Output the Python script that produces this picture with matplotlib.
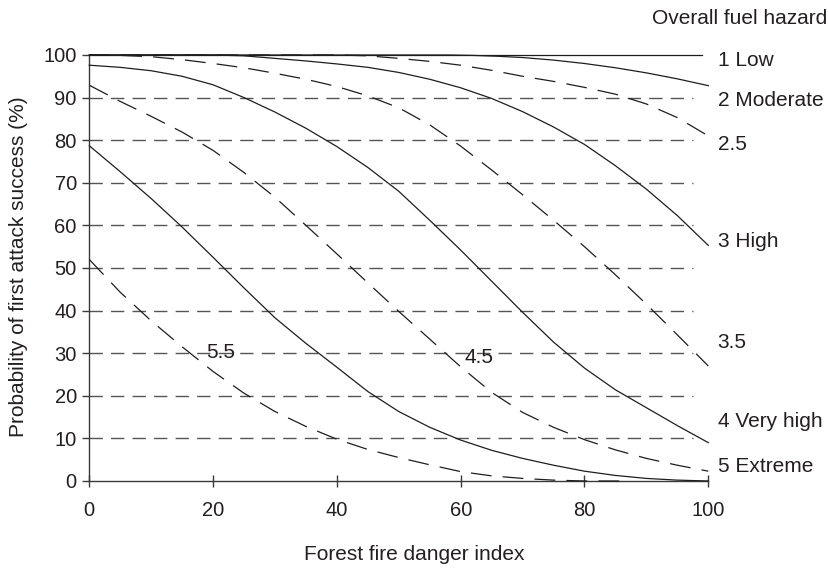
import matplotlib
matplotlib.use("Agg")
import matplotlib.pyplot as plt

plt.rcParams['font.family'] = ['Liberation Sans', 'DejaVu Sans']
plt.rcParams['lines.scale_dashes'] = False

# ---- data ----
x_std = [0, 5, 10, 15, 20, 25, 30, 35, 40, 45, 50, 55, 60, 65, 70, 75, 80, 85, 90, 95, 100]

low_x = [0, 99]
low_y = [100, 100]

moderate_x = [0, 58, 62, 66, 70, 75, 80, 85, 90, 95, 100]
moderate_y = [100, 100, 99.9, 99.7, 99.4, 98.8, 98.0, 97.0, 95.8, 94.4, 92.8]

h25_x = [0, 40, 45, 50, 55, 60, 65, 70, 75, 80, 85, 90, 95, 100]
h25_y = [100, 100, 99.8, 99.2, 98.5, 97.6, 96.4, 95.0, 93.8, 92.4, 90.8, 88.5, 85.3, 81.0]

high_x = [0, 20, 25, 30, 35, 40, 45, 50, 55, 60, 65, 70, 75, 80, 85, 90, 95, 100]
high_y = [100, 100, 99.8, 99.2, 98.6, 97.9, 97.1, 95.9, 94.3, 92.3, 89.8, 86.7, 83.1, 79.0, 74.0, 68.5, 62.3, 55.3]

h35_x = [0, 5, 10, 15, 20, 25, 30, 35, 40, 45, 50, 55, 60, 65, 70, 75, 80, 85, 90, 95, 100]
h35_y = [100, 99.9, 99.6, 98.9, 98.0, 97.0, 95.7, 94.3, 92.6, 90.4, 87.6, 83.6, 78.6, 73.0, 67.2, 61.2, 55.0, 48.4, 41.5, 34.3, 27.0]

veryhigh_y = [97.6, 97.1, 96.3, 95.0, 93.0, 90.0, 86.6, 82.8, 78.5, 73.6, 68.0, 61.2, 54.2, 46.9, 39.6, 32.6, 26.5, 21.4, 17.2, 13.0, 9.0]

h45_y = [92.9, 89.1, 85.6, 81.9, 77.6, 72.4, 66.6, 60.0, 53.3, 46.5, 39.8, 33.3, 26.8, 20.8, 16.1, 12.6, 9.7, 7.3, 5.3, 3.7, 2.3]

extreme_y = [78.7, 72.6, 66.3, 59.6, 52.5, 45.3, 38.3, 32.3, 26.7, 21.0, 16.3, 12.6, 9.6, 7.2, 5.3, 3.7, 2.3, 1.3, 0.6, 0.2, 0.0]

h55_x = [0, 5, 10, 15, 20, 25, 30, 35, 40, 45, 50, 55, 60, 65, 70, 75, 80, 86]
h55_y = [52.0, 44.3, 37.6, 31.5, 25.7, 20.6, 16.3, 12.8, 9.8, 7.4, 5.5, 3.8, 2.2, 1.2, 0.6, 0.2, 0.0, 0.0]

right_labels = ["1 Low", "2 Moderate", "2.5", "3 High", "3.5", "4 Very high", "5 Extreme"]
right_label_y = [98.8, 89.4, 78.9, 56.2, 32.4, 13.9, 3.4]

inline_labels = ["5.5", "4.5"]
inline_label_x = [21.2, 63.0]
inline_label_y = [30.1, 29.0]

grid_levels = [10, 20, 30, 40, 50, 60, 70, 80, 90]
x_ticks = [0, 20, 40, 60, 80, 100]
y_ticks = [0, 10, 20, 30, 40, 50, 60, 70, 80, 90, 100]

# ---- figure ----
fig = plt.figure(figsize=(8.29, 5.68), dpi=100)
ax = fig.add_axes([0.1077, 0.1532, 0.7467, 0.75])

txt = '#231f20'
curve_col = '#1e1e1e'
grid_col = '#555555'

for g in grid_levels:
    ln, = ax.plot([0, 97.5], [g, g], color=grid_col, lw=1.0, zorder=1)
    ln.set_dashes([9.6, 5.9])

solid_kw = dict(color=curve_col, lw=0.9, zorder=3, clip_on=False,
                solid_joinstyle='round', dash_joinstyle='round')
dash = [15, 8]

ax.plot(low_x, low_y, **solid_kw)
ax.plot(moderate_x, moderate_y, **solid_kw)
l, = ax.plot(h25_x, h25_y, **solid_kw); l.set_dashes(dash)
ax.plot(high_x, high_y, **solid_kw)
l, = ax.plot(h35_x, h35_y, **solid_kw); l.set_dashes(dash)
ax.plot(x_std, veryhigh_y, **solid_kw)
l, = ax.plot(x_std, h45_y, **solid_kw); l.set_dashes(dash)
ax.plot(x_std, extreme_y, **solid_kw)
l, = ax.plot(h55_x, h55_y, **solid_kw); l.set_dashes(dash)

ax.set_xlim(0, 100)
ax.set_ylim(0, 100)
ax.set_xticks(x_ticks)
ax.set_yticks(y_ticks)

for s in ['top', 'right']:
    ax.spines[s].set_visible(False)
for s in ['left', 'bottom']:
    ax.spines[s].set_color('#3a3a3a')
    ax.spines[s].set_linewidth(1.0)

ax.tick_params(axis='x', direction='inout', length=9, width=1.0, color='#3a3a3a',
               labelsize=14.5, labelcolor=txt, pad=10)
ax.tick_params(axis='y', direction='out', length=5, width=1.0, color='#3a3a3a',
               labelsize=14.5, labelcolor=txt, pad=4)

for lab, yv in zip(right_labels, right_label_y):
    ax.text(101.5, yv, lab, fontsize=15, color=txt, ha='left', va='center', clip_on=False)

for lab, xv, yv in zip(inline_labels, inline_label_x, inline_label_y):
    ax.text(xv, yv, lab, fontsize=15, color=txt, ha='center', va='center')

fig.text(827 / 829, 1 - 19 / 568, "Overall fuel hazard", fontsize=15, color=txt,
         ha='right', va='center')
fig.text(414 / 829, 1 - 554 / 568, "Forest fire danger index", fontsize=15, color=txt,
         ha='center', va='center')
fig.text(19 / 829, 1 - 267 / 568, "Probability of first attack success (%)", fontsize=15,
         color=txt, ha='center', va='center', rotation=90)

fig.savefig("out.png", dpi=100)
